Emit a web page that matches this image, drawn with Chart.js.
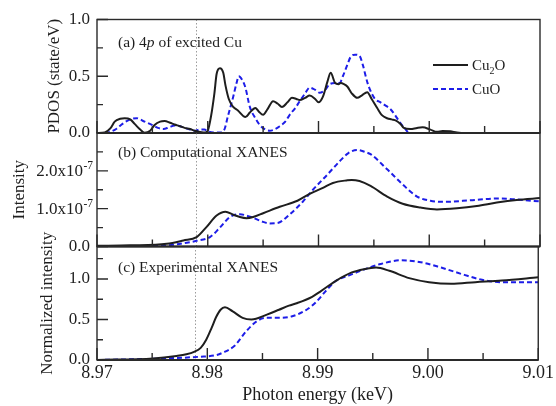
<!DOCTYPE html>
<html>
<head>
<meta charset="utf-8">
<script src="https://cdn.jsdelivr.net/npm/chart.js@4/dist/chart.umd.min.js"></script>
<style>
  html, body { margin: 0; padding: 0; background: #fff; }
  #wrap { position: relative; width: 556px; height: 406px; overflow: hidden; background: #fff; }
  #wrap canvas { position: absolute; left: 0; top: 0; }
</style>
</head>
<body>
<div id="wrap">
  <canvas id="panelA" width="556" height="406"></canvas>
  <canvas id="panelB" width="556" height="406"></canvas>
  <canvas id="panelC" width="556" height="406"></canvas>
</div>
<script>
// ---- Photon energy axis (keV) ----
const xTickValues = [8.97, 8.98, 8.99, 9.00, 9.01];
const xTickLabels = ['8.97', '8.98', '8.99', '9.00', '9.01'];
const xMinorTicks = [8.975, 8.985, 8.995, 9.005];
const edgeMarker = 8.9789;

// ---- (a) 4p PDOS of the excited Cu (state/eV) ----
const pdosE_Cu2O = [8.9700,8.9707,8.9712,8.9716,8.9721,8.9725,8.9730,8.9734,8.9739,8.9743,8.9748,8.9752,8.9757,8.9761,8.9766,8.9770,8.9775,8.9779,8.9784,8.9788,8.9793,8.9798,8.9800,8.9803,8.9806,8.9808,8.9811,8.9814,8.9816,8.9819,8.9823,8.9827,8.9834,8.9838,8.9843,8.9846,8.9850,8.9854,8.9859,8.9863,8.9867,8.9872,8.9876,8.9880,8.9883,8.9888,8.9892,8.9897,8.9900,8.9904,8.9908,8.9911,8.9915,8.9918,8.9920,8.9923,8.9926,8.9930,8.9935,8.9939,8.9944,8.9948,8.9953,8.9957,8.9962,8.9966,8.9970,8.9974,8.9977,8.9983,8.9989,8.9994,9.0001,9.0007,9.0012,9.0019,9.0025,9.0032,9.0100];
const pdosCu2O = [0,0.005,0.04,0.10,0.125,0.13,0.12,0.08,0.03,0.003,0.02,0.07,0.10,0.105,0.09,0.075,0.06,0.045,0.035,0.02,0.01,0.005,0.02,0.15,0.35,0.52,0.57,0.53,0.42,0.30,0.23,0.20,0.14,0.18,0.22,0.19,0.16,0.21,0.28,0.26,0.23,0.27,0.31,0.30,0.29,0.31,0.33,0.30,0.27,0.32,0.45,0.53,0.44,0.43,0.44,0.43,0.41,0.35,0.31,0.33,0.36,0.30,0.22,0.16,0.13,0.12,0.11,0.08,0.045,0.035,0.045,0.05,0.03,0.01,0.018,0.015,0.005,0,0];
const pdosE_CuO = [8.9700,8.9707,8.9712,8.9718,8.9723,8.9730,8.9736,8.9743,8.9750,8.9755,8.9760,8.9765,8.9770,8.9775,8.9779,8.9784,8.9788,8.9793,8.9797,8.9800,8.9805,8.9811,8.9815,8.9818,8.9823,8.9826,8.9828,8.9831,8.9834,8.9838,8.9843,8.9847,8.9852,8.9856,8.9861,8.9865,8.9870,8.9874,8.9879,8.9883,8.9888,8.9892,8.9897,8.9901,8.9906,8.9910,8.9915,8.9919,8.9922,8.9926,8.9929,8.9933,8.9937,8.9940,8.9944,8.9947,8.9951,8.9956,8.9960,8.9965,8.9969,8.9973,8.9978,8.9982,9.0100];
const pdosCuO = [0,0,0.01,0.04,0.08,0.12,0.13,0.10,0.07,0.045,0.035,0.05,0.065,0.06,0.045,0.03,0.02,0.03,0.03,0.015,0.005,0.005,0.03,0.14,0.32,0.44,0.50,0.47,0.40,0.23,0.13,0.07,0.03,0.02,0.035,0.06,0.10,0.16,0.22,0.28,0.35,0.40,0.38,0.355,0.38,0.43,0.44,0.44,0.50,0.60,0.67,0.69,0.68,0.60,0.45,0.37,0.30,0.27,0.245,0.21,0.16,0.10,0.04,0,0];
const pdosTicks = [0, 0.5, 1.0];
const pdosMinor = [0.25, 0.75];

// ---- (b) computed XANES intensity, in units of 1e-7 ----
const compE_Cu2O = [8.9700,8.9730,8.9763,8.9778,8.9790,8.9799,8.9808,8.9816,8.9823,8.9829,8.9835,8.9841,8.9850,8.9856,8.9865,8.9881,8.9892,8.9904,8.9913,8.9926,8.9930,8.9937,8.9947,8.9962,8.9976,8.9992,9.0007,9.0025,9.0043,9.0061,9.0079,9.0100];
const compCu2O = [0.02,0.03,0.07,0.16,0.25,0.52,0.82,0.92,0.84,0.78,0.75,0.78,0.88,0.95,1.05,1.21,1.39,1.55,1.68,1.75,1.76,1.73,1.60,1.32,1.13,1.03,0.98,1.01,1.07,1.16,1.23,1.28];
const compE_CuO = [8.9700,8.9763,8.9781,8.9790,8.9802,8.9811,8.9820,8.9829,8.9840,8.9850,8.9856,8.9863,8.9874,8.9886,8.9895,8.9908,8.9919,8.9927,8.9935,8.9942,8.9947,8.9962,8.9976,8.9989,9.0001,9.0012,9.0037,9.0061,9.0076,9.0100];
const compCuO = [0.0,0.03,0.10,0.15,0.25,0.50,0.78,0.85,0.77,0.65,0.61,0.62,0.85,1.19,1.50,1.90,2.25,2.47,2.55,2.50,2.44,2.04,1.64,1.32,1.21,1.18,1.22,1.27,1.25,1.19];
const compUnit = 1e-7;
const compTicks = [0, 1, 2];          // multiples of compUnit
const compMinor = [0.5, 1.5, 2.5];

// ---- (c) measured, normalized XANES ----
const expE_Cu2O = [8.9700,8.9751,8.9772,8.9781,8.9788,8.9794,8.9799,8.9804,8.9808,8.9812,8.9816,8.9823,8.9832,8.9840,8.9854,8.9865,8.9874,8.9881,8.9895,8.9903,8.9917,8.9931,8.9942,8.9953,8.9965,8.9983,9.0001,9.0021,9.0043,9.0067,9.0100];
const expCu2O = [0.0,0.02,0.05,0.07,0.10,0.15,0.25,0.40,0.53,0.62,0.65,0.60,0.52,0.50,0.56,0.62,0.67,0.70,0.78,0.85,0.98,1.08,1.12,1.14,1.10,1.01,0.96,0.94,0.96,0.98,1.02];
const expE_CuO = [8.9700,8.9763,8.9793,8.9808,8.9814,8.9825,8.9835,8.9845,8.9853,8.9865,8.9877,8.9890,8.9899,8.9908,8.9917,8.9928,8.9937,8.9956,8.9976,8.9992,9.0012,9.0033,9.0049,9.0067,9.0100];
const expCuO = [0.0,0.02,0.04,0.06,0.09,0.18,0.35,0.48,0.52,0.52,0.54,0.62,0.72,0.86,0.98,1.04,1.09,1.18,1.23,1.21,1.14,1.05,0.99,0.96,0.96];
const expTicks = [0, 0.5, 1.0];
const expMinor = [0.25, 0.75, 1.25];

// ---- look ----
const SERIF = '"Liberation Serif", "Times New Roman", Times, serif';
const INK = '#1e1e1e';
const FRAME = '#2a2a2a';
const BLUE = '#1d1de8';
const PLOT_LEFT = 97, PLOT_RIGHT_PAD = 16;

const toPoints = (E, V, k = 1) => E.map((e, i) => ({ x: e, y: V[i] * k }));

function series(label, data, dashed) {
  return {
    label, data,
    borderColor: dashed ? BLUE : INK,
    borderWidth: 2,
    borderDash: dashed ? [5, 3] : [],
    pointRadius: 0,
    fill: false,
    cubicInterpolationMode: 'monotone'
  };
}

// frame, inward ticks, edge marker, panel caption and legend
const panelDecor = {
  id: 'panelDecor',
  beforeDatasetsDraw(chart) {
    const { ctx, chartArea: a, scales: { x } } = chart;
    const px = Math.round(x.getPixelForValue(edgeMarker)) + 0.5;
    ctx.save();
    ctx.strokeStyle = '#9c9c9c';
    ctx.lineWidth = 1;
    ctx.setLineDash([1.5, 2]);
    ctx.beginPath();
    ctx.moveTo(px, a.top);
    ctx.lineTo(px, a.bottom);
    ctx.stroke();
    ctx.restore();
  },
  afterDatasetsDraw(chart, args, o) {
    const { ctx, chartArea: a, scales: { x, y } } = chart;
    ctx.save();
    ctx.setLineDash([]);
    ctx.strokeStyle = FRAME;
    ctx.lineWidth = 1.4;
    ctx.strokeRect(a.left, a.top, a.right - a.left, a.bottom - a.top);
    ctx.lineWidth = 2;
    ctx.beginPath();
    ctx.moveTo(a.left, a.bottom); ctx.lineTo(a.right, a.bottom);
    ctx.stroke();

    ctx.lineWidth = 1.4;
    ctx.beginPath();
    xTickValues.forEach(v => { const p = x.getPixelForValue(v); ctx.moveTo(p, a.bottom); ctx.lineTo(p, a.bottom - 12); });
    xMinorTicks.forEach(v => { const p = x.getPixelForValue(v); ctx.moveTo(p, a.bottom); ctx.lineTo(p, a.bottom - 7); });
    o.yMajor.forEach(v => { const p = y.getPixelForValue(v); ctx.moveTo(a.left, p); ctx.lineTo(a.left + 11, p); });
    o.yMinor.forEach(v => { const p = y.getPixelForValue(v); ctx.moveTo(a.left, p); ctx.lineTo(a.left + 6, p); });
    ctx.stroke();

    // panel caption, italic pieces where flagged
    ctx.fillStyle = INK;
    ctx.textBaseline = 'alphabetic';
    ctx.textAlign = 'left';
    let cx = a.left + 21;
    o.caption.forEach(([txt, italic]) => {
      ctx.font = (italic ? 'italic ' : '') + '15.5px ' + SERIF;
      ctx.fillText(txt, cx, a.top + o.captionDy);
      cx += ctx.measureText(txt).width;
    });

    // scientific tick labels (x10^-7)
    if (o.sciLabels) {
      ctx.textBaseline = 'middle';
      compTicks.forEach(v => {
        const p = y.getPixelForValue(v * compUnit);
        if (v === 0) {
          ctx.textAlign = 'right';
          ctx.font = '17px ' + SERIF;
          ctx.fillText('0.0', a.left - 7, p);
        } else {
          ctx.textAlign = 'right';
          ctx.font = '17px ' + SERIF;
          ctx.fillText(v.toFixed(1) + 'x10', a.left - 14, p + 1);
          ctx.textAlign = 'left';
          ctx.font = '11.5px ' + SERIF;
          ctx.fillText('-7', a.left - 13.5, p - 5);
        }
      });
    }

    // legend
    if (o.legend) {
      const lx0 = 433, lx1 = 468, tx = 472;
      const rows = [{ y: 65, dashed: false }, { y: 89, dashed: true }];
      rows.forEach(r => {
        ctx.strokeStyle = r.dashed ? BLUE : INK;
        ctx.lineWidth = 2;
        ctx.setLineDash(r.dashed ? [5, 3] : []);
        ctx.beginPath();
        ctx.moveTo(lx0, r.y); ctx.lineTo(lx1, r.y);
        ctx.stroke();
      });
      ctx.setLineDash([]);
      ctx.fillStyle = INK;
      ctx.textAlign = 'left';
      ctx.textBaseline = 'alphabetic';
      ctx.font = '15px ' + SERIF;
      let lx = tx;
      ctx.fillText('Cu', lx, 70); lx += ctx.measureText('Cu').width;
      ctx.font = '10px ' + SERIF;
      ctx.fillText('2', lx, 74); lx += ctx.measureText('2').width;
      ctx.font = '15px ' + SERIF;
      ctx.fillText('O', lx, 70);
      ctx.fillText('CuO', tx, 94);
    }
    ctx.restore();
  }
};

function yAxis(min, max, ticks, title, padLeft, showLabels) {
  return {
    type: 'linear', min, max,
    afterBuildTicks: s => { s.ticks = ticks.map(v => ({ value: v })); },
    afterFit: s => { s.width = PLOT_LEFT - padLeft; },
    grid: { display: false, drawTicks: false },
    border: { display: false },
    ticks: {
      display: showLabels, padding: 7, color: INK, autoSkip: false,
      font: { family: SERIF, size: 17 },
      callback: v => Number(v).toFixed(1)
    },
    title: { display: true, text: title, color: INK, font: { family: SERIF, size: 17 }, padding: 0 }
  };
}

function xAxis(visible) {
  return {
    type: 'linear', min: xTickValues[0], max: xTickValues[xTickValues.length - 1],
    display: visible,
    afterBuildTicks: s => { s.ticks = xTickValues.map(v => ({ value: v })); },
    afterFit: s => { s.height = visible ? 46 : 0; },
    grid: { display: false, drawTicks: false },
    border: { display: false },
    ticks: {
      padding: 2, color: INK, autoSkip: false, maxRotation: 0,
      font: { family: SERIF, size: 18 },
      callback: (v, i) => xTickLabels[i]
    },
    title: { display: true, text: 'Photon energy (keV)', color: INK, font: { family: SERIF, size: 18 }, padding: { top: 0, bottom: 0 } }
  };
}

function panel(id, datasets, pad, y, decor, showX) {
  return new Chart(document.getElementById(id), {
    type: 'line',
    data: { datasets },
    plugins: [panelDecor],
    options: {
      responsive: false,
      animation: false,
      events: [],
      layout: { padding: pad },
      plugins: { legend: { display: false }, tooltip: { enabled: false }, panelDecor: decor },
      scales: { x: xAxis(showX), y }
    }
  });
}

// (a)
panel('panelA',
  [series('Cu₂O', toPoints(pdosE_Cu2O, pdosCu2O), false),
   series('CuO', toPoints(pdosE_CuO, pdosCuO), true)],
  { left: 44.8, right: PLOT_RIGHT_PAD, top: 19.5, bottom: 273 },
  yAxis(0, 1.0, pdosTicks, 'PDOS (state/eV)', 44.8, true),
  { yMajor: pdosTicks, yMinor: pdosMinor, caption: [['(a) 4', false], ['p', true], [' of excited Cu', false]], captionDy: 27.5, legend: true, sciLabels: false },
  false);

// (b)
panel('panelB',
  [series('Cu₂O', toPoints(compE_Cu2O, compCu2O, compUnit), false),
   series('CuO', toPoints(compE_CuO, compCuO, compUnit), true)],
  { left: 9.8, right: PLOT_RIGHT_PAD, top: 133, bottom: 159.5 },
  yAxis(0, 3 * compUnit, compTicks.map(v => v * compUnit), 'Intensity', 9.8, false),
  { yMajor: compTicks.map(v => v * compUnit), yMinor: compMinor.map(v => v * compUnit), caption: [['(b) Computational XANES', false]], captionDy: 24, legend: false, sciLabels: true },
  false);

// (c)
panel('panelC',
  [series('Cu₂O', toPoints(expE_Cu2O, expCu2O), false),
   series('CuO', toPoints(expE_CuO, expCuO), true)],
  { left: 37.3, right: PLOT_RIGHT_PAD, top: 246.5, bottom: 0 },
  yAxis(0, 1.4, expTicks, 'Normalized intensity', 37.3, true),
  { yMajor: expTicks, yMinor: expMinor, caption: [['(c) Experimental XANES', false]], captionDy: 25.5, legend: false, sciLabels: false },
  true);
</script>
</body>
</html>
